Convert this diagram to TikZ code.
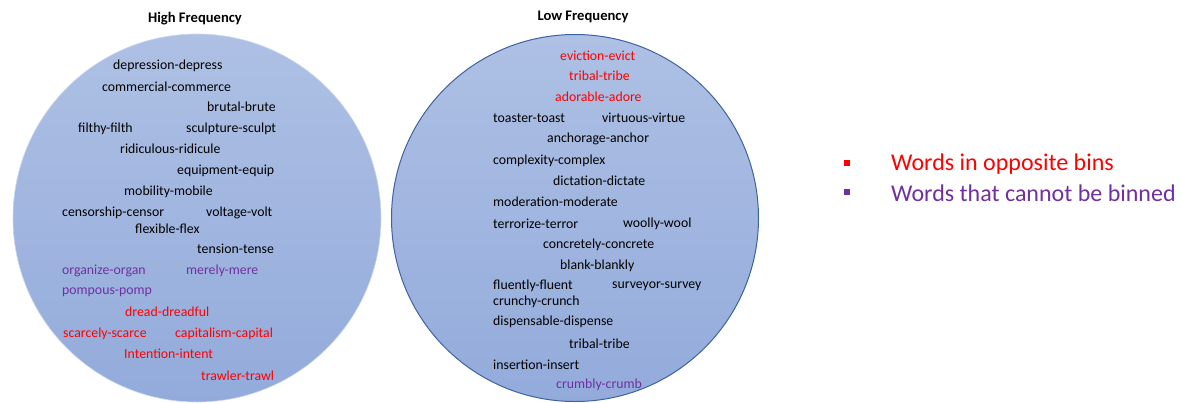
\documentclass[tikz,border=0pt]{standalone}
\usepackage{fontspec}
\setmainfont{Carlito}
\begin{document}
\begin{tikzpicture}[x=1pt,y=-1pt,
  w/.style={anchor=west,inner sep=0pt,font=\fontsize{13.8}{15}\selectfont,text=black},
  rw/.style={w,text=wred},
  pw/.style={w,text=wpurple},
  ttl/.style={inner sep=0pt,font=\fontsize{14.6}{16}\selectfont\bfseries},
  leg/.style={anchor=west,inner sep=0pt,font=\fontsize{24}{26}\selectfont},
  bul/.style={inner sep=0pt,minimum size=6pt,draw=none}]
\definecolor{ctop}{HTML}{AEC0E4}
\definecolor{cbot}{HTML}{93ABDB}
\definecolor{wred}{HTML}{FF0000}
\definecolor{wpurple}{HTML}{7030A0}
\definecolor{cedge}{HTML}{3F62A0}
\useasboundingbox (0,0) rectangle (1181,402);
\fill[white] (0,0) rectangle (1181,402);
% circles
\begin{scope}
\clip (0,0) rectangle (1181,402);
\node[circle,minimum size=368pt,inner sep=0pt,top color=ctop,bottom color=cbot,draw=ctop!60!white,line width=0.6pt] (hc) at (197,218) {};
\node[circle,minimum size=367pt,inner sep=0pt,top color=ctop,bottom color=cbot,draw=cedge,line width=1pt] (lc) at (575,218) {};
\end{scope}
% titles
\node[ttl] (ht) at (195,19) {High Frequency};
\node[ttl] (lt) at (583,17) {Low Frequency};
% high frequency words
\node[w] (h1) at (113,66) {depression-depress};
\node[w] (h2) at (102,87) {commercial-commerce};
\node[w] (h3) at (207,107) {brutal-brute};
\node[w] (h4) at (78,129) {filthy-filth};
\node[w] (h5) at (186,129) {sculpture-sculpt};
\node[w] (h6) at (120,149) {ridiculous-ridicule};
\node[w] (h7) at (177,171) {equipment-equip};
\node[w] (h8) at (124,192) {mobility-mobile};
\node[w] (h9) at (62,213) {censorship-censor};
\node[w] (h10) at (206,213) {voltage-volt};
\node[w] (h11) at (135,229) {flexible-flex};
\node[w] (h12) at (197,249) {tension-tense};
\node[pw] (h13) at (62,271) {organize-organ};
\node[pw] (h14) at (186,271) {merely-mere};
\node[pw] (h15) at (62,292) {pompous-pomp};
\node[rw] (h16) at (125,312) {dread-dreadful};
\node[rw] (h17) at (63,334) {scarcely-scarce};
\node[rw] (h18) at (175,334) {capitalism-capital};
\node[rw] (h19) at (124,354) {Intention-intent};
\node[rw] (h20) at (201,376) {trawler-trawl};
% low frequency words
\node[rw] (l1) at (560,56) {eviction-evict};
\node[rw] (l2) at (569,76) {tribal-tribe};
\node[rw] (l3) at (555,97) {adorable-adore};
\node[w] (l4) at (493,118) {toaster-toast};
\node[w] (l5) at (602,118) {virtuous-virtue};
\node[w] (l6) at (547,139) {anchorage-anchor};
\node[w] (l7) at (493,161) {complexity-complex};
\node[w] (l8) at (553,181) {dictation-dictate};
\node[w] (l9) at (493,202) {moderation-moderate};
\node[w] (l10) at (493,224) {terrorize-terror};
\node[w] (l11) at (623,224) {woolly-wool};
\node[w] (l12) at (543,245) {concretely-concrete};
\node[w] (l13) at (560,266) {blank-blankly};
\node[w] (l14) at (493,286) {fluently-fluent};
\node[w] (l15) at (612,286) {surveyor-survey};
\node[w] (l16) at (493,302) {crunchy-crunch};
\node[w] (l17) at (493,322) {dispensable-dispense};
\node[w] (l18) at (569,344) {tribal-tribe};
\node[w] (l19) at (493,365) {insertion-insert};
\node[pw] (l20) at (556,385) {crumbly-crumb};
% legend
\node[bul,fill=wred] (b1) at (847,163) {};
\node[bul,fill=wpurple] (b2) at (847,192) {};
\node[leg,text=wred] (t1) at (891,164) {Words in opposite bins};
\node[leg,text=wpurple] (t2) at (891,193) {Words that cannot be binned};
\end{tikzpicture}
\end{document}
